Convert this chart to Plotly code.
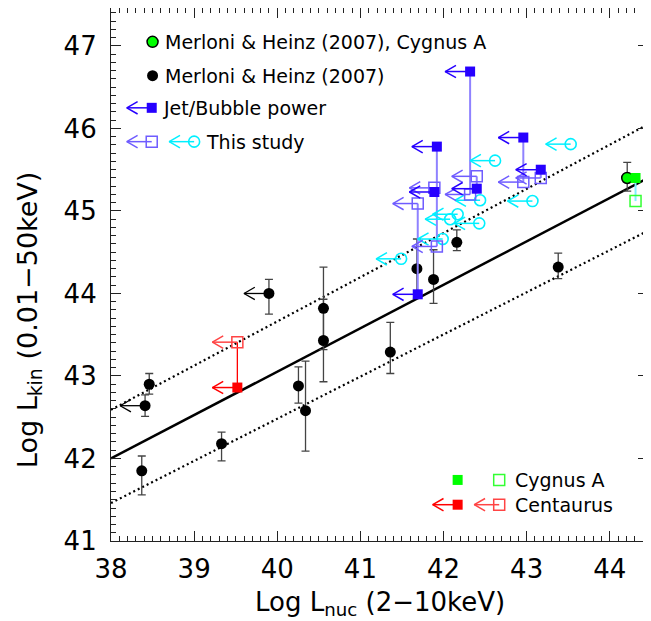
import plotly.graph_objects as go

# ---------------- data ----------------
# Merloni & Heinz (2007) points
mh_x = [38.46, 38.41, 38.37, 39.33, 39.90, 40.255, 40.34, 40.556, 40.556, 41.36, 41.68, 41.88, 42.16, 43.38]
mh_y = [42.90, 42.64, 41.85, 42.18, 44.00, 42.88, 42.58, 43.82, 43.43, 43.29, 44.30, 44.17, 44.62, 44.32]
mh_err_plus = [0.13, 0.13, 0.18, 0.14, 0.17, 0.23, 0.60, 0.50, 0.50, 0.36, 0.36, 0.36, 0.15, 0.17]
mh_err_minus = [0.12, 0.13, 0.29, 0.21, 0.25, 0.21, 0.49, 0.50, 0.50, 0.26, 0.36, 0.29, 0.10, 0.14]
mh_upper_limit = [False, True, False, False, True, False, False, False, False, False, False, False, False, False]

# Merloni & Heinz (2007), Cygnus A
mh_cyg_x = [44.21]
mh_cyg_y = [45.40]
mh_cyg_err_plus = [0.19]
mh_cyg_err_minus = [0.16]

# Jet / bubble power (filled) and this study (open), paired by source
jet_x = [42.32, 41.92, 42.96, 43.17, 41.89, 42.40, 41.69]
jet_y = [46.69, 45.78, 45.89, 45.50, 45.23, 45.27, 43.99]
study_pair_y = [45.20, 44.57, 45.35, 45.40, 45.28, 45.42, 45.09]

# This study only (cyan circles, upper limits)
cyan_x = [43.53, 42.62, 42.44, 43.07, 42.17, 42.08, 42.43, 41.99, 41.49]
cyan_y = [45.81, 45.61, 45.13, 45.12, 44.96, 44.90, 44.85, 44.66, 44.42]

# Cygnus A (jet power filled, this study open)
cyg_x = [44.31]
cyg_jet_y = [45.40]
cyg_study_y = [45.12]

# Centaurus
cen_x = [39.52]
cen_jet_y = [42.86]
cen_study_y = [43.41]

# Correlation line and scatter band (end points)
fit_x = [38.0, 44.46]
fit_y = [42.00, 45.40]
band_hi_y = [42.59, 46.05]
band_lo_y = [41.46, 44.76]

# Axis ticks
x_ticks = [38, 39, 40, 41, 42, 43, 44]
y_ticks = [41, 42, 43, 44, 45, 46, 47]

# ---------------- style ----------------
BLUE = '#2600ff'
BLUE_LIGHT = '#6f5cff'
BLUE_LINK = '#8f82ff'
CYAN = '#00f0ff'
GREEN = '#00ff00'
GREEN_OPEN = '#33ff33'
RED = '#ff0000'
RED_OPEN = '#ff4444'
FONT = 'DejaVu Sans'

ARROW_LEN = 0.30
HEAD_DX = 0.13
HEAD_DY = 0.075


def arrows(xs, ys):
    lx, ly = [], []
    for x, y in zip(xs, ys):
        tip = x - ARROW_LEN
        lx += [x, tip, None, tip + HEAD_DX, tip, tip + HEAD_DX, None]
        ly += [y, y, None, y + HEAD_DY, y, y - HEAD_DY, None]
    return lx, ly


def links(xs, y1, y2):
    lx, ly = [], []
    for x, a, b in zip(xs, y1, y2):
        lx += [x, x, None]
        ly += [a, b, None]
    return lx, ly


fig = go.Figure()

def add_line(x, y, color, width=1.5, dash=None):
    fig.add_trace(go.Scatter(x=x, y=y, mode='lines', hoverinfo='skip',
                             line=dict(color=color, width=width, dash=dash)))

def add_markers(x, y, symbol, size, color, line_color=None, line_width=0):
    fig.add_trace(go.Scatter(x=x, y=y, mode='markers', hoverinfo='skip',
                             marker=dict(symbol=symbol, size=size, color=color,
                                         line=dict(color=line_color or color, width=line_width))))

# fit lines
add_line(fit_x, fit_y, 'black', 2.5)
add_line(fit_x, band_hi_y, 'black', 2.2, '2px,3px')
add_line(fit_x, band_lo_y, 'black', 2.2, '2px,3px')

# Merloni & Heinz points with error bars
fig.add_trace(go.Scatter(
    x=mh_x, y=mh_y, mode='markers', hoverinfo='skip',
    marker=dict(symbol='circle', size=11, color='black'),
    error_y=dict(type='data', symmetric=False, array=mh_err_plus, arrayminus=mh_err_minus,
                 color='#444444', thickness=1.3, width=4)))
ulx = [x for x, f in zip(mh_x, mh_upper_limit) if f]
uly = [y for y, f in zip(mh_y, mh_upper_limit) if f]
ax_, ay_ = arrows(ulx, uly)
add_line(ax_, ay_, 'black', 1.3)

# connectors between jet power and this study
lx, ly = links(jet_x, jet_y, study_pair_y)
add_line(lx, ly, BLUE_LINK, 2)
lx, ly = links(cyg_x, cyg_jet_y, cyg_study_y)
add_line(lx, ly, '#80f0ff', 2)
lx, ly = links(cen_x, cen_jet_y, cen_study_y)
add_line(lx, ly, RED, 1.3)

# cyan circles (this study)
ax_, ay_ = arrows(cyan_x, cyan_y)
add_line(ax_, ay_, CYAN, 1.5)
add_markers(cyan_x, cyan_y, 'circle-open', 11, CYAN, CYAN, 1.6)

# open squares (this study)
ax_, ay_ = arrows(jet_x, study_pair_y)
add_line(ax_, ay_, BLUE_LIGHT, 1.5)
add_markers(jet_x, study_pair_y, 'square-open', 11, BLUE_LIGHT, BLUE_LIGHT, 1.5)

# filled squares (jet/bubble power)
ax_, ay_ = arrows(jet_x, jet_y)
add_line(ax_, ay_, BLUE, 1.5)
add_markers(jet_x, jet_y, 'square', 10, BLUE)

# Merloni & Heinz Cygnus A
fig.add_trace(go.Scatter(
    x=mh_cyg_x, y=mh_cyg_y, mode='markers', hoverinfo='skip',
    marker=dict(symbol='circle', size=11, color=GREEN, line=dict(color='black', width=1.5)),
    error_y=dict(type='data', symmetric=False, array=mh_cyg_err_plus, arrayminus=mh_cyg_err_minus,
                 color='#444444', thickness=1.3, width=4)))

# Cygnus A squares
add_markers(cyg_x, cyg_study_y, 'square-open', 11, GREEN_OPEN, GREEN_OPEN, 1.5)
add_markers(cyg_x, cyg_jet_y, 'square', 10, GREEN)

# Centaurus
ax_, ay_ = arrows(cen_x, cen_study_y)
add_line(ax_, ay_, RED_OPEN, 1.5)
add_markers(cen_x, cen_study_y, 'square-open', 11, RED_OPEN, RED_OPEN, 1.5)
ax_, ay_ = arrows(cen_x, cen_jet_y)
add_line(ax_, ay_, RED, 1.5)
add_markers(cen_x, cen_jet_y, 'square', 10, RED)

# ---------------- in-plot legends ----------------
LEG_FONT = dict(family=FONT, size=19, color='black')
add_markers([38.50], [47.05], 'circle', 11, GREEN, 'black', 1.5)
add_markers([38.50], [46.64], 'circle', 11, 'black')
ax_, ay_ = arrows([38.49], [46.25]); add_line(ax_, ay_, BLUE, 1.5)
add_markers([38.49], [46.25], 'square', 10, BLUE)
ax_, ay_ = arrows([38.49], [45.84]); add_line(ax_, ay_, BLUE_LIGHT, 1.5)
add_markers([38.49], [45.84], 'square-open', 11, BLUE_LIGHT, BLUE_LIGHT, 1.5)
ax_, ay_ = arrows([39.0], [45.84]); add_line(ax_, ay_, CYAN, 1.5)
add_markers([39.0], [45.84], 'circle-open', 11, CYAN, CYAN, 1.6)

add_markers([42.17], [41.74], 'square', 10, GREEN)
add_markers([42.67], [41.74], 'square-open', 11, GREEN_OPEN, GREEN_OPEN, 1.5)
ax_, ay_ = arrows([42.17], [41.44]); add_line(ax_, ay_, RED, 1.5)
add_markers([42.17], [41.44], 'square', 10, RED)
ax_, ay_ = arrows([42.67], [41.44]); add_line(ax_, ay_, RED_OPEN, 1.5)
add_markers([42.67], [41.44], 'square-open', 11, RED_OPEN, RED_OPEN, 1.5)

legend_texts = [
    (38.62, 47.05, 'Merloni &amp; Heinz (2007), Cygnus A'),
    (38.62, 46.64, 'Merloni &amp; Heinz (2007)'),
    (38.60, 46.25, 'Jet/Bubble power'),
    (39.12, 45.84, 'This study'),
    (42.84, 41.74, 'Cygnus A'),
    (42.84, 41.44, 'Centaurus'),
]
for tx, ty, t in legend_texts:
    fig.add_annotation(x=tx, y=ty, xref='x', yref='y', text=t, showarrow=False,
                       xanchor='left', yanchor='middle', font=LEG_FONT)

# axis titles
TITLE_FONT = dict(family=FONT, size=26, color='black')
fig.add_annotation(x=0.5, y=-0.117, xref='paper', yref='paper',
                   text='Log L<sub>nuc</sub> (2\u221210keV)', showarrow=False,
                   xanchor='center', yanchor='middle', font=TITLE_FONT)
fig.add_annotation(x=-0.152, y=0.415, xref='paper', yref='paper',
                   text='Log L<sub>kin</sub> (0.01\u221250keV)', showarrow=False, textangle=-90,
                   xanchor='center', yanchor='middle', font=dict(family=FONT, size=27, color='black'))

axis_common = dict(showline=True, linecolor='#222222', linewidth=1.2, mirror='allticks',
                   ticks='inside', ticklen=10, tickwidth=1.2, tickcolor='#222222',
                   showgrid=False, zeroline=False,
                   tickfont=dict(family=FONT, size=26, color='black'))

fig.update_layout(
    width=651, height=621,
    margin=dict(l=103, r=11, t=0, b=88),
    paper_bgcolor='white', plot_bgcolor='white',
    showlegend=False, hovermode=False,
    xaxis=dict(range=[38, 44.46], tickvals=x_ticks, ticklabelstandoff=5,
               minor=dict(ticks='inside', ticklen=5, dtick=0.1, tick0=38, tickcolor='#222222', tickwidth=1),
               **axis_common),
    yaxis=dict(range=[41, 47.46], tickvals=y_ticks, ticklabelstandoff=8,
               minor=dict(ticks='inside', ticklen=5, dtick=0.1, tick0=41, tickcolor='#222222', tickwidth=1),
               **axis_common),
)

fig.write_html("out.html", config={"displayModeBar": False})
